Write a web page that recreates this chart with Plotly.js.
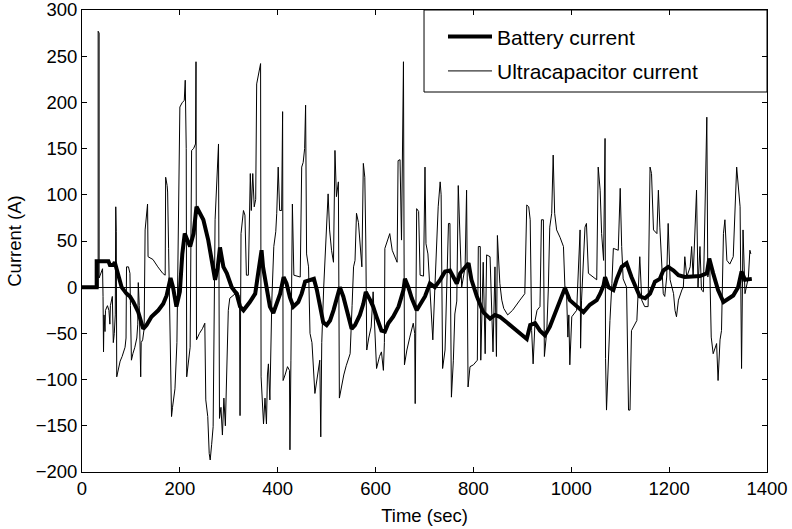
<!DOCTYPE html>
<html>
<head>
<meta charset="utf-8">
<script src="https://cdn.plot.ly/plotly-3.0.1.min.js"></script>
<style>html,body{margin:0;padding:0;background:#fff;}#chart{width:792px;height:529px;}</style>
</head>
<body>
<div id="chart"></div>
<script>
// Battery current (A) vs time (sec)
const batteryTime = [0,30,30,54,57,64,67,74,81,91,98,105,115,125,132,142,156,166,173,181,186,193,200,205,210,216,221,228,234,241,248,258,265,272,277,282,289,296,306,316,323,330,343,354,360,367,370,377,384,391,398,405,412,418,425,432,442,449,456,466,474,480,486,493,500,507,514,521,527,534,541,551,558,568,575,580,589,595,602,612,619,626,636,647,657,660,667,674,684,691,701,711,721,732,742,752,759,766,773,783,790,796,807,820,834,844,854,868,885,899,909,916,926,936,946,956,967,977,987,997,1011,1025,1038,1052,1059,1066,1069,1076,1086,1093,1103,1113,1123,1134,1140,1151,1161,1171,1181,1188,1198,1209,1219,1232,1246,1263,1277,1282,1290,1300,1311,1321,1331,1341,1348,1355,1369];
const batteryCurrent = [0,0,28,28,24,24,27,15,0,-7,-10,-16,-27,-45,-41,-32,-25,-18,-9,10,0,-21,-5,36,58,50,44,58,87,80,73,51,26,8,20,43,22,15,0,-7,-21,-25,-16,-7,15,40,22,-3,-21,-28,-18,-7,11,4,-11,-21,-16,-7,6,8,9,-3,-18,-38,-41,-36,-25,-10,0,-10,-25,-45,-41,-30,-18,-5,-14,-21,-32,-47,-48,-39,-32,-21,-3,9,0,-12,-25,-19,-10,4,0,8,17,18,11,4,15,22,26,8,-10,-27,-34,-30,-32,-38,-45,-52,-56,-41,-39,-47,-52,-43,-29,-14,-1,-14,-21,-27,-19,-14,-7,2,11,0,-3,9,22,26,11,-3,-10,-12,-7,6,9,18,22,18,13,11,11,12,15,31,15,-3,-16,-12,-9,0,17,8,9];

// Ultracapacitor current (A) vs time (sec)
const ucapTime = [0,33,33,35,35,42,43,44,45,47,48,52,55,57,58,62,64,66,68,69,70,71,74,78,82,86,88,90,91,95,98,99,101,104,108,112,114,115,117,120,121,124,127,129,132,134,135,145,155,165,170,171,174,175,177,180,183,185,188,190,194,197,200,205,209,211,213,214,217,221,224,228,232,233,234,240,246,251,253,257,260,262,265,268,272,275,279,281,284,287,290,293,296,299,302,310,318,322,323,325,330,333,336,340,344,346,349,352,355,357,360,363,365,366,369,371,374,377,379,381,384,388,392,396,398,401,404,408,410,411,415,420,424,425,427,430,433,440,446,449,452,455,457,459,463,466,470,476,480,486,488,490,494,497,503,506,510,514,517,520,524,526,530,535,540,548,552,555,558,561,565,572,575,578,580,582,586,591,595,599,602,608,612,616,618,619,624,629,634,640,644,646,650,653,657,659,664,670,677,680,681,684,688,691,698,701,703,707,711,717,721,724,728,732,734,737,742,749,752,755,759,762,766,769,771,776,783,786,789,793,800,808,810,814,815,820,824,827,834,837,840,844,847,849,854,858,862,870,880,895,905,909,913,916,919,922,926,930,936,939,943,945,950,953,956,960,963,966,970,977,984,987,990,993,995,997,1001,1011,1018,1019,1021,1028,1031,1035,1045,1052,1055,1059,1062,1066,1069,1070,1072,1075,1079,1083,1086,1096,1100,1103,1106,1113,1117,1120,1123,1134,1140,1144,1150,1157,1161,1164,1168,1175,1178,1181,1188,1191,1195,1198,1202,1209,1212,1215,1219,1226,1229,1232,1236,1243,1246,1249,1256,1259,1263,1266,1270,1277,1279,1283,1286,1290,1294,1297,1300,1304,1307,1311,1314,1318,1324,1331,1338,1341,1345,1348,1351,1355,1358,1362,1365,1367];
const ucapCurrent = [0,0,277,275,10,20,-10,-70,-30,-48,-25,-20,-25,-40,-20,-10,-60,-50,-30,87,60,-97,-90,-80,-75,-68,-65,-55,22,22,15,-20,-79,-72,-65,-55,-40,5,-20,-97,-60,-57,-45,62,85,90,33,30,22,15,13,119,110,103,42,-40,-140,-130,-115,-110,-60,65,195,200,202,224,150,-97,-80,-65,148,150,155,244,-57,-50,-45,-39,-122,-140,-180,-187,-170,-151,73,110,155,-142,-130,-160,-120,-150,-100,-25,-12,-8,-5,-10,-139,58,83,78,13,13,123,83,123,87,95,220,229,235,242,-97,-130,-148,-120,-148,-95,-83,-122,-14,44,60,80,130,83,83,190,-101,-95,-86,-90,-176,-79,90,13,12,11,130,135,150,197,36,22,-50,-60,-115,-100,-79,-162,-60,0,33,101,62,40,27,148,98,114,-120,-108,-95,-85,-72,-20,22,29,80,70,22,134,119,50,-68,-55,-43,-5,-45,-88,-75,-70,-90,-60,42,50,58,40,31,27,137,138,51,244,-84,-68,-54,-39,-50,-126,85,82,13,12,130,47,36,0,-57,-3,44,87,114,100,-88,-68,69,69,-119,-79,-29,-15,110,72,0,22,105,-108,-86,-84,-79,44,44,-79,27,-72,35,33,-27,-70,22,-75,56,4,-14,-23,-30,-25,-14,-7,89,87,73,-47,-83,-36,-25,-21,73,73,-75,-47,-3,65,80,143,80,62,54,44,0,0,-54,-30,-84,-32,-25,62,-66,-14,65,69,15,11,8,130,105,58,29,161,-77,-133,-86,-36,4,42,40,107,44,9,0,-133,-133,-47,-36,33,-14,-21,-21,130,123,62,58,105,65,-7,-10,11,69,8,-7,-25,-32,-14,-3,0,33,11,22,44,11,105,0,44,-3,-5,184,11,22,-54,-72,-65,-61,-101,-57,-47,58,73,29,25,33,130,108,87,-88,62,-7,0,11,40,36];

const xTicks = [0,200,400,600,800,1000,1200,1400];
const yTicks = [-200,-150,-100,-50,0,50,100,150,200,250,300];

const FONT = 'Liberation Sans, Arial, Helvetica, sans-serif';

const traces = [
  {x: batteryTime, y: batteryCurrent, type: 'scatter', mode: 'lines', name: 'Battery current',
   line: {color: '#000', width: 4}, legendgroup: 'a'},
  {x: ucapTime, y: ucapCurrent, type: 'scatter', mode: 'lines', name: 'Ultracapacitor current',
   line: {color: '#000', width: 1}, legendgroup: 'b'}
];

const axisCommon = {
  showline: true, linecolor: '#000', linewidth: 1, mirror: 'ticks',
  ticks: 'inside', ticklen: 5, tickcolor: '#000', tickwidth: 1,
  showgrid: false, ticklabeloverflow: 'allow',
  tickfont: {family: FONT, size: 18.5, color: '#000'}
};

const layout = {
  width: 792, height: 529,
  margin: {l: 82, r: 25, t: 10, b: 57},
  paper_bgcolor: '#fff', plot_bgcolor: '#fff',
  showlegend: true,
  xaxis: Object.assign({}, axisCommon, {
    range: [0, 1400], tickvals: xTicks, zeroline: false,
    title: {text: 'Time (sec)', font: {family: FONT, size: 18.5, color: '#000'}, standoff: 10}
  }),
  yaxis: Object.assign({}, axisCommon, {
    range: [-200, 300], tickvals: yTicks,
    zeroline: true, zerolinecolor: '#000', zerolinewidth: 1,
    title: {text: 'Current (A)', font: {family: FONT, size: 18.5, color: '#000'}, standoff: 9}
  }),
  legend: {
    x: 0.527, y: 0.986, xanchor: 'left', yanchor: 'top',
    bgcolor: 'rgba(0,0,0,0)', borderwidth: 0,
    font: {family: FONT, size: 21, color: '#000'},
    itemwidth: 44, tracegroupgap: 4
  },
  shapes: [
    {type: 'rect', xref: 'paper', yref: 'paper', x0: 0.4993, x1: 1, y0: 0.8225, y1: 1,
     line: {color: '#000', width: 1}, fillcolor: '#fff', layer: 'below'}
  ]
};

Plotly.newPlot('chart', traces, layout, {staticPlot: true, displayModeBar: false});
</script>
</body>
</html>
